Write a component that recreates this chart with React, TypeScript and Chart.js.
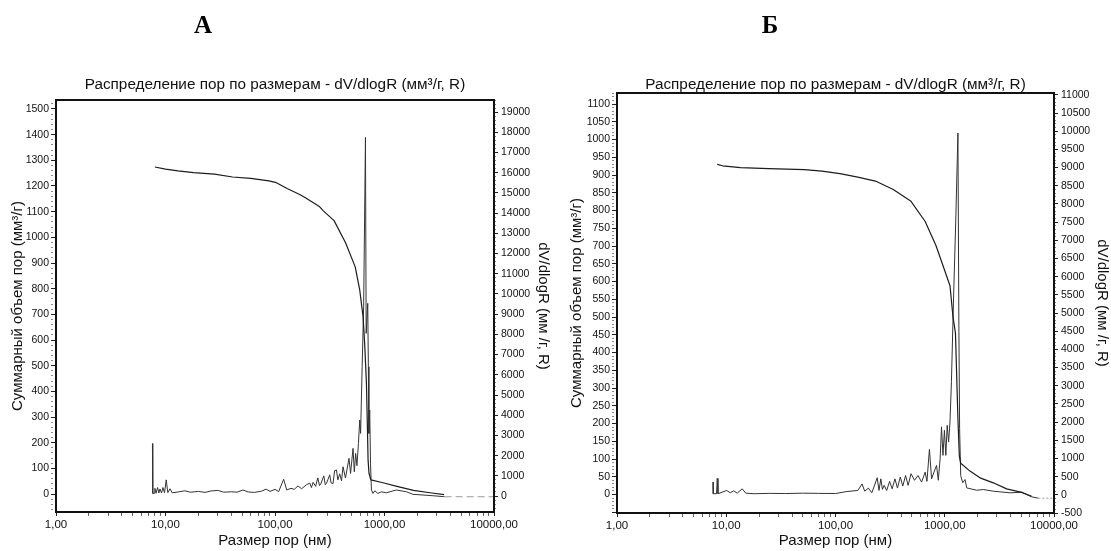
import React, { useEffect, useRef } from "react";
import { Chart, registerables } from "chart.js";

Chart.register(...registerables);

const FONT = '"Liberation Sans", Arial, sans-serif';

// ---------------- Panel А data ----------------
// cumulative pore volume (left axis, мм³/г)
const cumSizeA = [8.0, 10, 13, 18, 28, 41, 60, 88, 103, 129, 168, 188, 256, 275, 346, 440, 540, 594, 637, 660, 684, 698, 708, 722, 750, 970, 1300, 1840, 2700, 3500];
const cumVolA = [1274, 1266, 1259, 1252, 1246, 1235, 1230, 1220, 1213, 1190, 1167, 1155, 1119, 1104, 1065, 980, 885, 795, 691, 580, 431, 262, 132, 81, 55, 44, 30, 14, 4, -2];
// dV/dlogR (right axis)
const distSizeA = [7.6, 7.65, 7.9, 8.0, 8.2, 8.47, 8.7, 8.9, 9.2, 9.47, 9.8, 10.15, 10.5, 11.0, 11.5, 13, 15, 17, 20, 23, 26, 30, 34, 40, 45, 51, 57, 65, 75, 83, 90, 100, 108, 120, 128, 140, 150, 162, 175, 194, 208, 215, 223, 235, 246, 255, 262, 279, 288, 296, 316, 325, 339, 350, 364, 375, 390, 405, 418, 440, 474, 490, 516, 530, 545, 560, 578, 594, 605, 625, 645, 670, 680, 703, 712, 720, 733, 745, 760, 785, 816, 870, 937, 1040, 1284, 1585, 1820, 2770, 3540, 10000];
const distValA = [2600, 130, 140, 380, 140, 420, 150, 350, 150, 420, 160, 800, 170, 360, 160, 200, 260, 190, 230, 180, 250, 280, 190, 210, 190, 300, 200, 180, 240, 340, 230, 330, 220, 830, 300, 380, 330, 500, 360, 560, 640, 420, 680, 480, 900, 520, 600, 1000, 560, 640, 1050, 650, 620, 1250, 1290, 800, 1100, 750, 1450, 890, 1865, 1120, 2360, 1200, 2110, 1500, 2600, 3760, 3100, 6400, 9370, 17750, 8050, 9535, 6400, 3100, 4255, 1620, 300, 130, 260, 130, 210, 160, 300, 210, 85, 15, -35, -35];

// ---------------- Panel Б data ----------------
const cumSizeB = [8.27, 9.27, 13.5, 24.5, 52, 75, 110, 160, 232, 338, 491, 662, 829, 963, 1117, 1188, 1253, 1279, 1318, 1360, 1400, 1702, 2102, 2782, 3687, 5058, 6240];
const cumVolB = [930, 926, 921, 918, 915, 911, 904, 894, 883, 859, 826, 769, 702, 645, 588, 502, 455, 361, 220, 108, 88, 66, 47, 33, 16, 6, -5];
const distSizeB = [7.57, 7.6, 8.15, 8.27, 8.4, 10.1, 10.9, 11.7, 12.6, 14, 15.1, 18, 25, 35, 50, 70, 100, 127, 160, 175, 185, 200, 215, 241, 250, 260, 269, 279, 294, 313, 330, 350, 369, 392, 413, 438, 462, 491, 529, 570, 614, 662, 687, 724, 758, 798, 841, 873, 907, 934, 963, 993, 1023, 1053, 1085, 1117, 1151, 1204, 1260, 1320, 1348, 1368, 1400, 1460, 1534, 1589, 1962, 2254, 2782, 3954, 5058, 6240, 7180, 10000];
const distValB = [350, 30, 30, 450, 30, 120, 55, 110, 45, 165, 45, 30, 40, 35, 45, 40, 35, 90, 120, 300, 100, 185, 55, 470, 120, 440, 150, 260, 120, 370, 165, 440, 185, 490, 240, 530, 260, 580, 400, 530, 350, 625, 370, 1250, 440, 625, 810, 400, 990, 1870, 1085, 1775, 1085, 1910, 1450, 2005, 3110, 5410, 7500, 9950, 4490, 1820, 530, 330, 420, 190, 126, 145, 100, 55, 71, -55, -93, -93];

// ---------------- Axis ticks & texts ----------------
const xTickValues = [1, 2, 3, 4, 5, 6, 7, 8, 9, 10, 20, 30, 40, 50, 60, 70, 80, 90, 100, 200, 300, 400, 500, 600, 700, 800, 900, 1000, 2000, 3000, 4000, 5000, 6000, 7000, 8000, 9000, 10000];
const xLabelValues = [1, 10, 100, 1000, 10000];
const xLabelTexts = ["1,00", "10,00", "100,00", "1000,00", "10000,00"];

const chartTitle = "Распределение пор по размерам - dV/dlogR (мм³/г, R)";
const leftAxisTitle = "Суммарный объем пор (мм³/г)";
const rightAxisTitle = "dV/dlogR (мм /г, R)";
const xAxisTitle = "Размер пор (нм)";

type AxisSpec = { min: number; max: number; minor: number; major: number; labelMin: number };
type Panel = {
  letter: string;
  left: number;
  width: number;
  padTop: number;
  leftW: number;
  rightW: number;
  xH: number;
  yL: AxisSpec;
  yR: AxisSpec;
  cumX: number[];
  cumY: number[];
  distX: number[];
  distY: number[];
  tailStart: number;
  tailDash: number[];
  leftTitlePad: number;
  rightTitlePad: number;
  letterX: number;
};

const panels: Panel[] = [
  {
    letter: "А",
    left: 0,
    width: 555,
    padTop: 100,
    leftW: 56,
    rightW: 61,
    xH: 39,
    yL: { min: -70, max: 1535, minor: 20, major: 100, labelMin: 0 },
    yR: { min: -790, max: 19600, minor: 200, major: 1000, labelMin: 0 },
    cumX: cumSizeA,
    cumY: cumVolA,
    distX: distSizeA,
    distY: distValA,
    tailStart: 3540,
    tailDash: [7, 4],
    leftTitlePad: 9,
    rightTitlePad: 3,
    letterX: 203,
  },
  {
    letter: "Б",
    left: 555,
    width: 556,
    padTop: 93,
    leftW: 62,
    rightW: 57,
    xH: 38,
    yL: { min: -52, max: 1131, minor: 10, major: 50, labelMin: 0 },
    yR: { min: -500, max: 11050, minor: 100, major: 500, labelMin: -500 },
    cumX: cumSizeB,
    cumY: cumVolB,
    distX: distSizeB,
    distY: distValB,
    tailStart: 7180,
    tailDash: [2, 2],
    leftTitlePad: 13,
    rightTitlePad: 0,
    letterX: 770,
  },
];

function buildTicks(spec: AxisSpec) {
  const out: { value: number }[] = [];
  const start = Math.ceil(spec.min / spec.minor) * spec.minor;
  for (let v = start; v <= spec.max + 1e-9; v += spec.minor) out.push({ value: Math.round(v) });
  return out;
}

function isMajor(v: number, spec: AxisSpec) {
  return Math.abs(v % spec.major) < 1e-6;
}

const framePlugin = {
  id: "frameBox",
  afterDraw(chart: any) {
    const { ctx, chartArea: a } = chart;
    ctx.save();
    ctx.strokeStyle = "#111";
    ctx.lineWidth = 2;
    ctx.strokeRect(a.left, a.top, a.right - a.left, a.bottom - a.top);
    ctx.restore();
  },
};

function yAxis(spec: AxisSpec, position: "left" | "right", width: number, titleText: string, titlePad: number, tickLen: number, tickPad: number) {
  const major = (ctx: any) => !!(ctx.tick && isMajor(ctx.tick.value, spec));
  return {
    type: "linear",
    position,
    min: spec.min,
    max: spec.max,
    afterBuildTicks: (s: any) => {
      s.ticks = buildTicks(spec);
    },
    afterFit: (s: any) => {
      s.width = width;
    },
    border: { display: false },
    grid: {
      drawOnChartArea: false,
      drawTicks: true,
      tickLength: tickLen,
      tickWidth: 1,
      tickColor: (ctx: any) => (major(ctx) ? "#222" : "#8a8a8a"),
      tickBorderDash: (ctx: any) => (major(ctx) ? [] : [2, 40]),
    },
    ticks: {
      autoSkip: false,
      padding: tickPad,
      color: "#111",
      font: { family: FONT, size: 10.5 },
      callback: (v: any) => {
        const n = Number(v);
        return n >= spec.labelMin && isMajor(n, spec) ? String(n) : "";
      },
    },
    title: {
      display: true,
      text: titleText,
      color: "#111",
      font: { family: FONT, size: 15 },
      padding: { top: titlePad, bottom: 0 },
    },
  };
}

function PanelChart({ p }: { p: Panel }) {
  const ref = useRef<HTMLCanvasElement>(null);
  useEffect(() => {
    const canvas = ref.current;
    if (!canvas) return;
    const cumData = p.cumX.map((x, i) => ({ x, y: p.cumY[i] }));
    const distData = p.distX.map((x, i) => ({ x, y: p.distY[i] }));
    const chart = new Chart(canvas, {
      type: "line",
      data: {
        datasets: [
          {
            label: "Суммарный объем",
            data: cumData,
            yAxisID: "yL",
            borderColor: "#1c1c1c",
            borderWidth: 1.2,
            pointRadius: 0,
            tension: 0,
            fill: false,
            borderJoinStyle: "round",
          },
          {
            label: "dV/dlogR",
            data: distData,
            yAxisID: "yR",
            borderColor: "#333",
            borderWidth: 1,
            pointRadius: 0,
            tension: 0,
            fill: false,
            borderJoinStyle: "round",
            segment: {
              borderColor: (ctx: any) => (ctx.p0.parsed.x >= p.tailStart - 1 ? "#9a9a9a" : undefined),
              borderDash: (ctx: any) => (ctx.p0.parsed.x >= p.tailStart - 1 ? p.tailDash : undefined),
            },
          },
        ],
      } as any,
      options: {
        responsive: false,
        maintainAspectRatio: false,
        animation: false,
        devicePixelRatio: 1,
        layout: { padding: { top: p.padTop, left: 0, right: 0, bottom: 0 } },
        plugins: {
          legend: { display: false },
          tooltip: { enabled: false },
          title: { display: false },
        },
        scales: {
          x: {
            type: "logarithmic",
            position: "bottom",
            min: 1,
            max: 10000,
            afterBuildTicks: (s: any) => {
              s.ticks = xTickValues.map((v) => ({ value: v }));
            },
            afterFit: (s: any) => {
              s.height = p.xH;
            },
            border: { display: false },
            grid: {
              drawOnChartArea: false,
              drawTicks: true,
              tickLength: 4,
              tickWidth: 1,
              tickColor: (ctx: any) => (ctx.tick && xLabelValues.indexOf(ctx.tick.value) >= 0 ? "#222" : "#666"),
            },
            ticks: {
              autoSkip: false,
              maxRotation: 0,
              minRotation: 0,
              padding: 2,
              color: "#111",
              font: { family: FONT, size: 11.5 },
              callback: (v: any) => {
                const idx = xLabelValues.indexOf(Number(v));
                return idx >= 0 ? xLabelTexts[idx] : "";
              },
            },
            title: {
              display: true,
              text: xAxisTitle,
              color: "#111",
              font: { family: FONT, size: 15 },
              padding: { top: 0, bottom: 1 },
            },
          },
          yL: yAxis(p.yL, "left", p.leftW, leftAxisTitle, p.leftTitlePad, 5, 2),
          yR: yAxis(p.yR, "right", p.rightW, rightAxisTitle, p.rightTitlePad, 4, 3),
        } as any,
      },
      plugins: [framePlugin],
    } as any);
    return () => chart.destroy();
  }, [p]);
  return (
    <canvas
      ref={ref}
      width={p.width}
      height={551}
      style={{ position: "absolute", left: p.left, top: 0, width: p.width, height: 551 }}
    />
  );
}

export default function App() {
  return (
    <div style={{ position: "absolute", left: 0, top: 0, width: 1111, height: 551, background: "#fff", overflow: "hidden" }}>
      {panels.map((p, i) => {
        const plotCenter = p.left + (p.leftW + (p.width - p.rightW)) / 2;
        return (
          <React.Fragment key={i}>
            <PanelChart p={p} />
            <div
              style={{
                position: "absolute",
                left: plotCenter - 260,
                width: 520,
                top: 75,
                textAlign: "center",
                fontFamily: FONT,
                fontSize: 15.3,
                lineHeight: "17px",
                color: "#111",
                whiteSpace: "nowrap",
              }}
            >
              {chartTitle}
            </div>
            <div
              style={{
                position: "absolute",
                left: p.letterX - 20,
                width: 40,
                top: 11,
                textAlign: "center",
                fontFamily: '"Liberation Serif", "Times New Roman", serif',
                fontWeight: "bold",
                fontSize: 25,
                color: "#000",
              }}
            >
              {p.letter}
            </div>
          </React.Fragment>
        );
      })}
    </div>
  );
}
